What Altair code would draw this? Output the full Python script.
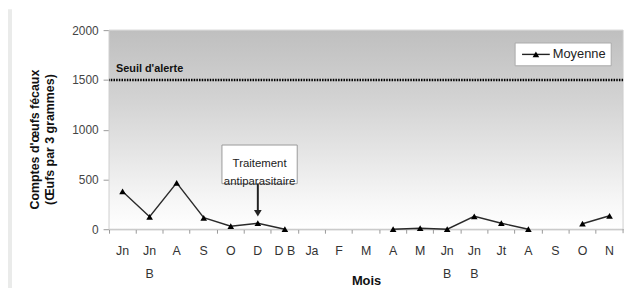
import altair as alt
import pandas as pd

# ---- data ----
month_labels = ["Jn", "Jn|B", "A", "S", "O", "D", "D B", "Ja", "F", "M",
                "A", "M", "Jn|B", "Jn|B", "Jt", "A", "S", "O", "N"]
moyenne = [380, 125, 465, 115, 30, 60, 0, None, None, None,
           0, 10, 0, 130, 60, 0, None, 55, 135]
segment = [0, 0, 0, 0, 0, 0, 0, None, None, None,
           1, 1, 1, 1, 1, 1, None, 2, 2]
y_ticks = [0, 500, 1000, 1500, 2000]
seuil = 1500
traitement_idx = 5

W, H = 519, 201
SANS = "Liberation Sans, Arial"

df = pd.DataFrame({"idx": list(range(len(month_labels))),
                   "val": moyenne, "seg": segment})
df_valid = df.dropna(subset=["val"])
one = pd.DataFrame({"k": [0]})

label_arr = "[" + ",".join("'" + l + "'" for l in month_labels) + "]"

x_scale = alt.Scale(type="band", domain=list(range(len(month_labels))),
                    paddingInner=0, paddingOuter=0)
y_scale = alt.Scale(domain=[0, 2000])

x_axis = alt.Axis(bandPosition=0,
                  tickSize=4, labelPadding=12, labelAngle=0,
                  labelExpr="split(" + label_arr + "[datum.value], '|')",
                  labelLineHeight=23, labelFontSize=12.5, labelFont=SANS,
                  labelColor="#333", domainColor="#999", tickColor="#999",
                  title="Mois", titleFontSize=13, titleFontWeight="bold",
                  titleFont=SANS, titleY=52, titleBaseline="middle",
                  titleColor="#111")
y_axis = alt.Axis(values=y_ticks, format="d", tickSize=6, labelPadding=5,
                  labelFontSize=12, labelFont=SANS, labelColor="#444",
                  domainColor="#999", tickColor="#999", grid=False,
                  title=["Comptes d'œufs fécaux", "(Œufs par 3 grammes)"],
                  titleFontSize=12.5, titleFontWeight="bold", titleFont=SANS,
                  titleAngle=270, titleX=-81, titleY=110, titleBaseline="top",
                  titleAlign="center", titleLineHeight=15, titleColor="#111")

bg = alt.Chart(one).mark_rect(
    color=alt.LinearGradient(
        gradient="linear", x1=0, x2=0, y1=0, y2=1,
        stops=[alt.GradientStop(color="#bfbfbf", offset=0),
               alt.GradientStop(color="#d3d3d3", offset=0.35),
               alt.GradientStop(color="#e4e4e4", offset=0.6),
               alt.GradientStop(color="#f6f6f6", offset=0.85),
               alt.GradientStop(color="#ffffff", offset=1)]),
    stroke="#cfcfcf", strokeWidth=1
).encode(x=alt.value(0), x2=alt.value(W), y=alt.value(0), y2=alt.value(H))

left_strip = alt.Chart(one).mark_rect(color="#eaebea").encode(
    x=alt.value(-102), x2=alt.value(-98), y=alt.value(-21), y2=alt.value(H + 60))

base = alt.Chart(df_valid).encode(
    x=alt.X("idx:O", scale=x_scale, axis=x_axis),
    y=alt.Y("val:Q", scale=y_scale, axis=y_axis),
)
line = base.mark_line(color="#2a2a2a", strokeWidth=1.4).encode(detail="seg:N")
pts = base.mark_point(shape="triangle-up", filled=True, size=45,
                      color="#000", opacity=1)

thr = alt.Chart(pd.DataFrame({"y": [seuil]})).mark_rule(
    color="#000", strokeWidth=2.5, strokeDash=[1.5, 1.2]
).encode(y=alt.Y("y:Q", scale=y_scale))

thr_text = alt.Chart(one).mark_text(
    text="Seuil d'alerte", font=SANS, fontSize=11, fontWeight="bold",
    align="left", baseline="middle", color="#111"
).encode(x=alt.value(7), y=alt.value(39))

right_tick = alt.Chart(one).mark_rule(color="#999").encode(
    x=alt.value(W), y=alt.value(H), y2=alt.value(H + 4))

# annotation
ann_box = alt.Chart(one).mark_rect(fill="#fff", stroke="#9a9a9a", strokeWidth=1).encode(
    x=alt.value(114), x2=alt.value(190), y=alt.value(116), y2=alt.value(155))
ann_text = alt.Chart(one).mark_text(
    text=["Traitement", "antiparasitaire"], font=SANS, fontSize=11.5,
    lineHeight=18, align="center", baseline="middle", color="#222"
).encode(x=alt.value(152), y=alt.value(135))
arr_df = pd.DataFrame({"idx": [traitement_idx], "y1": [458], "y2": [175], "yh": [160]})
arr_rule = alt.Chart(arr_df).mark_rule(color="#222", strokeWidth=2).encode(
    x=alt.X("idx:O", scale=x_scale), y=alt.Y("y1:Q", scale=y_scale),
    y2="y2:Q")
arr_head = alt.Chart(arr_df).mark_point(shape="triangle-down", filled=True,
                                        size=60, color="#222", opacity=1).encode(
    x=alt.X("idx:O", scale=x_scale), y=alt.Y("yh:Q", scale=y_scale))

# legend
leg_box = alt.Chart(one).mark_rect(fill="#fff", stroke="#aaa", strokeWidth=1).encode(
    x=alt.value(410), x2=alt.value(507), y=alt.value(13), y2=alt.value(36))
leg_line = alt.Chart(one).mark_rule(color="#222", strokeWidth=1.4).encode(
    x=alt.value(417), x2=alt.value(445), y=alt.value(24.5))
leg_pt = alt.Chart(one).mark_point(shape="triangle-up", filled=True, size=45,
                                   color="#000", opacity=1).encode(
    x=alt.value(431), y=alt.value(24.5))
leg_text = alt.Chart(one).mark_text(
    text="Moyenne", font=SANS, fontSize=13, align="left", baseline="middle",
    color="#222").encode(x=alt.value(448), y=alt.value(24.5))

chart = alt.layer(
    left_strip, bg, thr, thr_text, line, pts, right_tick,
    ann_box, ann_text, arr_rule, arr_head,
    leg_box, leg_line, leg_pt, leg_text
).properties(
    width=W, height=H,
    autosize=alt.AutoSizeParams(type="none"),
    padding={"left": 102, "top": 21, "right": 8, "bottom": 58},
    background="#ffffff",
).configure_view(stroke=None)

chart.save("out.html", embed_options={"renderer": "svg", "actions": False})
